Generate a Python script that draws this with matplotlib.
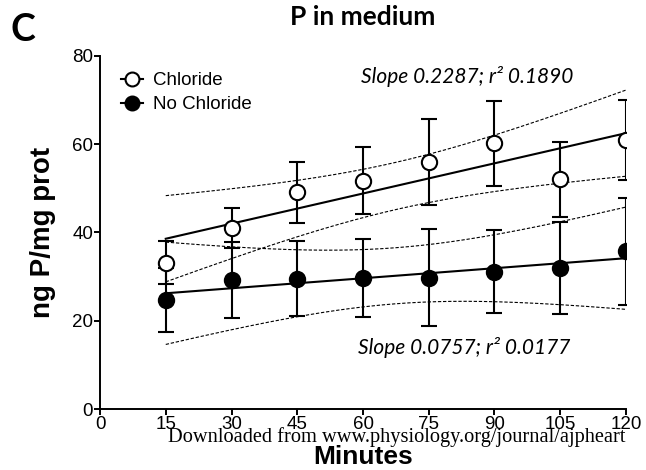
import numpy as np
import matplotlib
matplotlib.use("Agg")
import matplotlib.pyplot as plt
from matplotlib.lines import Line2D

minutes = [15, 30, 45, 60, 75, 90, 105, 120]
chloride_mean = [33.2, 41.1, 49.1, 51.7, 56.0, 60.2, 52.1, 61.0]
chloride_err = [4.8, 4.5, 6.9, 7.6, 9.8, 9.6, 8.5, 9.1]
nochl_mean = [24.7, 29.2, 29.5, 29.7, 29.8, 31.1, 31.9, 35.7]
nochl_err = [7.3, 8.6, 8.5, 8.8, 10.9, 9.4, 10.4, 12.2]
# 95% CI half-width of regression line at mean x
chloride_ci0 = 5.35
nochl_ci0 = 6.35
xticks = [0, 15, 30, 45, 60, 75, 90, 105, 120]
yticks = [0, 20, 40, 60, 80]

W, H = 646, 470
fig = plt.figure(figsize=(W / 100, H / 100), dpi=100)
ax = fig.add_axes([100 / W, (H - 409) / H, 526 / W, (409 - 56) / H])

x = np.array(minutes, float)
xx = np.linspace(15, 120, 200)
xm = x.mean()
varx = np.mean((x - xm) ** 2)

for mean, err, ci0, face in [(chloride_mean, chloride_err, chloride_ci0, "white"),
                             (nochl_mean, nochl_err, nochl_ci0, "black")]:
    m = np.array(mean)
    k, b = np.polyfit(x, m, 1)
    yy = k * xx + b
    hw = ci0 * np.sqrt(1 + (xx - xm) ** 2 / varx)
    ax.plot(xx, yy, color="black", lw=1.5, zorder=2)
    ax.plot(xx, yy + hw, color="black", lw=0.8, dashes=(3, 1.6), zorder=1)
    ax.plot(xx, yy - hw, color="black", lw=0.8, dashes=(3, 1.6), zorder=1)
    ax.errorbar(x, m, yerr=err, fmt="none", ecolor="black", elinewidth=1.5,
                capsize=5.8, capthick=1.5, zorder=3)
    ax.plot(x, m, "o", ms=11, mfc=face, mec="black", mew=1.5, zorder=4)

ax.set_xlim(0, 120)
ax.set_ylim(0, 80)
ax.set_xticks(xticks)
ax.set_yticks(yticks)
for s in ["top", "right"]:
    ax.spines[s].set_visible(False)
for s in ["left", "bottom"]:
    ax.spines[s].set_linewidth(1.4)
ax.tick_params(direction="out", length=4, width=1.4, labelsize=13.5, pad=1)
for lab in ax.get_xticklabels() + ax.get_yticklabels():
    lab.set_family("Liberation Sans")

handles = [Line2D([], [], color="black", lw=1.5, marker="o", ms=10, mfc="white", mec="black", mew=1.5),
           Line2D([], [], color="black", lw=1.5, marker="o", ms=10, mfc="black", mec="black", mew=1.5)]
ax.legend(handles, ["Chloride", "No Chloride"], loc="upper left", bbox_to_anchor=(0.025, 0.975),
          frameon=False, handlelength=1.2, handletextpad=0.5, labelspacing=0.35,
          borderaxespad=0, prop={"family": "Liberation Sans", "size": 13.5})

ax.text(83.7, 75.3, "Slope 0.2287; r\u00b2 0.1890", ha="center", va="center",
        fontsize=15, style="italic", family="Lato")
ax.text(83, 14.0, "Slope 0.0757; r\u00b2 0.0177", ha="center", va="center",
        fontsize=15, style="italic", family="Lato")

fig.text(363 / W, 1 - 17 / H, "P in medium", ha="center", va="center",
         fontsize=19, fontweight="bold", family="Lato")
fig.text(10 / W, 1 - 30 / H, "C", ha="left", va="center",
         fontsize=27, fontweight="bold", family="Lato")
fig.text(43 / W, 1 - 232 / H, "ng P/mg prot", ha="center", va="center", rotation=90,
         fontsize=20, fontweight="bold", family="Liberation Sans")
fig.text(363 / W, 1 - 457 / H, "Minutes", ha="center", va="center",
         fontsize=19, fontweight="bold", family="Liberation Sans")
fig.text(625 / W, 1 - 437 / H, "Downloaded from www.physiology.org/journal/ajpheart",
         ha="right", va="center", fontsize=14.7, family="Liberation Serif")

fig.savefig("out.png", dpi=100)
